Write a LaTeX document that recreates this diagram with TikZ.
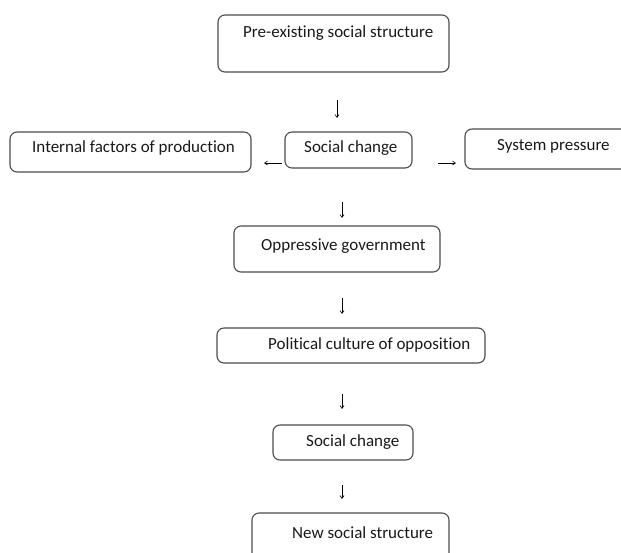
\documentclass[tikz,border=0pt]{standalone}
\usepackage{fontspec}
\setmainfont{Carlito}[Ligatures={NoCommon}]
\usetikzlibrary{arrows.meta}
\begin{document}
\begin{tikzpicture}[x=1pt,y=-1pt,
  box/.style={draw=black!70,line width=1.1pt,rounded corners=7pt},
  lbl/.style={anchor=west,inner sep=0pt,font=\fontsize{17}{19}\selectfont,text=black!90},
  arr/.style={line width=0.6pt,-{Straight Barb[length=3pt,width=4pt]}}]
\useasboundingbox (0,0) rectangle (621,552);
\clip (0,0) rectangle (621,552);
% boxes
\draw[box] (218,15) rectangle (449,72);
\draw[box] (10,132) rectangle (251,172);
\draw[box] (285,132) rectangle (412,168);
\draw[box] (465,129) rectangle (640,169);
\draw[box] (234,226) rectangle (440,272);
\draw[box] (217,328) rectangle (485,363);
\draw[box] (273,425) rectangle (413,460);
\draw[box] (252,513) rectangle (449,580);
% labels
\node[lbl] (pre) at (243,33) {Pre-existing social structure};
\node[lbl] (ifp) at (32,148) {Internal factors of production};
\node[lbl] (sc1) at (304,148) {Social change};
\node[lbl] (sp) at (497,146) {System pressure};
\node[lbl] (opp) at (261,246) {Oppressive government};
\node[lbl] (pol) at (268,345) {Political culture of opposition};
\node[lbl] (sc2) at (306,442) {Social change};
\node[lbl] (nss) at (292,533) {New social structure};
% arrows
\coordinate (a1s) at (337,100); \coordinate (a1e) at (337,118);
\coordinate (a2s) at (282,163); \coordinate (a2e) at (264,163);
\coordinate (a3s) at (438,163); \coordinate (a3e) at (456,163);
\coordinate (a4s) at (342,202); \coordinate (a4e) at (342,218);
\coordinate (a5s) at (342,298); \coordinate (a5e) at (342,314);
\coordinate (a6s) at (342,394); \coordinate (a6e) at (342,409);
\coordinate (a7s) at (342,485); \coordinate (a7e) at (342,499);
\draw[arr] (a1s) -- (a1e);
\draw[arr] (a2s) -- (a2e);
\draw[arr] (a3s) -- (a3e);
\draw[arr] (a4s) -- (a4e);
\draw[arr] (a5s) -- (a5e);
\draw[arr] (a6s) -- (a6e);
\draw[arr] (a7s) -- (a7e);
\end{tikzpicture}
\end{document}
